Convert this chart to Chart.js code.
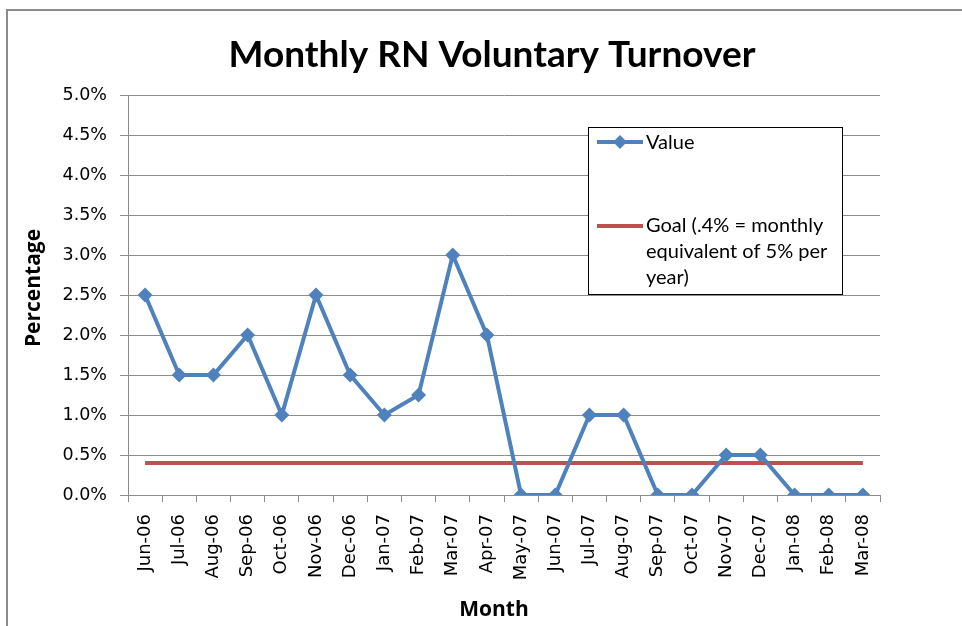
<!DOCTYPE html>
<html>
<head>
<meta charset="utf-8">
<script src="https://cdn.jsdelivr.net/npm/chart.js@4/dist/chart.umd.min.js"></script>
<style>
  html, body { margin: 0; padding: 0; background: #fff; }
  #wrap { width: 962px; height: 626px; }
</style>
</head>
<body>
<div id="wrap"><canvas id="turnoverChart" width="962" height="626"></canvas></div>
<script>
var months = ["Jun-06", "Jul-06", "Aug-06", "Sep-06", "Oct-06", "Nov-06", "Dec-06", "Jan-07", "Feb-07", "Mar-07", "Apr-07",
              "May-07", "Jun-07", "Jul-07", "Aug-07", "Sep-07", "Oct-07", "Nov-07", "Dec-07", "Jan-08", "Feb-08", "Mar-08"];
var valuePct = [2.5, 1.5, 1.5, 2.0, 1.0, 2.5, 1.5, 1.0, 1.25, 3.0, 2.0,
                0, 0, 1.0, 1.0, 0, 0, 0.5, 0.5, 0, 0, 0];
var goalPct = [0.4, 0.4, 0.4, 0.4, 0.4, 0.4, 0.4, 0.4, 0.4, 0.4, 0.4,
               0.4, 0.4, 0.4, 0.4, 0.4, 0.4, 0.4, 0.4, 0.4, 0.4, 0.4];
var yTicks = [0, 0.5, 1.0, 1.5, 2.0, 2.5, 3.0, 3.5, 4.0, 4.5, 5.0];

var textFont = "Lato, 'Open Sans', sans-serif";
var tickFont = "'DejaVu Sans', sans-serif";
var axisFont = "'Open Sans', sans-serif";
var blue = '#4F81BD';
var red = '#C0504D';

// outer frame, titles and the boxed legend sitting inside the plot
var decorations = {
    id: 'decorations',
    beforeDraw: function(chart) {
        var c = chart.ctx;
        c.save();
        c.fillStyle = '#fff';
        c.fillRect(0, 0, chart.width, chart.height);
        c.strokeStyle = '#8c8c8c';
        c.lineWidth = 2;
        c.strokeRect(7, 10, chart.width + 20, chart.height + 20);
        c.restore();
    },
    afterDraw: function(chart) {
        var c = chart.ctx;
        c.save();
        c.fillStyle = '#000';
        c.textAlign = 'center';
        c.textBaseline = 'middle';
        c.font = 'bold 37px ' + textFont;
        c.fillText('Monthly RN Voluntary Turnover', 492, 55);

        c.font = 'bold 21px ' + axisFont;
        c.fillText('Month', 494, 610);
        c.translate(34, 288);
        c.rotate(-Math.PI / 2);
        c.fillText('Percentage', 0, 0);
        c.setTransform(1, 0, 0, 1, 0, 0);

        // legend box
        var bx = 588, by = 127, bw = 254, bh = 167;
        c.fillStyle = '#fff';
        c.fillRect(bx, by, bw, bh);
        c.strokeStyle = '#000';
        c.lineWidth = 1;
        c.strokeRect(bx + 0.5, by + 0.5, bw, bh);

        c.lineWidth = 4;
        c.strokeStyle = blue;
        c.beginPath(); c.moveTo(597, 142); c.lineTo(643, 142); c.stroke();
        c.fillStyle = blue;
        c.beginPath();
        c.moveTo(620, 135); c.lineTo(627, 142); c.lineTo(620, 149); c.lineTo(613, 142);
        c.closePath(); c.fill();

        c.strokeStyle = red;
        c.beginPath(); c.moveTo(597, 226); c.lineTo(643, 226); c.stroke();

        c.fillStyle = '#000';
        c.textAlign = 'left';
        c.font = '20px ' + textFont;
        c.fillText('Value', 646, 143);
        c.fillText('Goal (.4% = monthly', 646, 226);
        c.fillText('equivalent of 5% per', 646, 252);
        c.fillText('year)', 646, 278);
        c.restore();
    }
};

var chartConfig = {
    type: 'line',
    data: {
        labels: months,
        datasets: [{
            label: 'Value',
            data: valuePct,
            borderColor: blue,
            backgroundColor: blue,
            borderWidth: 4,
            pointStyle: 'rectRot',
            pointRadius: 7.5,
            pointBorderWidth: 0,
            tension: 0,
            order: 1
        }, {
            label: 'Goal (.4% = monthly equivalent of 5% per year)',
            data: goalPct,
            borderColor: red,
            backgroundColor: red,
            borderWidth: 4,
            pointRadius: 0,
            tension: 0,
            order: 2
        }]
    },
    plugins: [decorations],
    options: {
        responsive: false,
        animation: false,
        layout: {
            padding: { top: 95, right: 82, bottom: 0, left: 0 }
        },
        plugins: {
            legend: { display: false },
            title: { display: false },
            tooltip: { enabled: false }
        },
        scales: {
            x: {
                offset: true,
                grid: {
                    offset: true,
                    drawOnChartArea: false,
                    drawTicks: true,
                    tickLength: 7,
                    color: '#8c8c8c'
                },
                border: { color: '#8c8c8c', width: 1 },
                ticks: {
                    color: '#000',
                    font: { family: tickFont, size: 18 },
                    minRotation: 90,
                    maxRotation: 90,
                    autoSkip: false,
                    padding: 12
                },
                afterFit: function(scale) { scale.height = 131; }
            },
            y: {
                min: 0,
                max: 5,
                afterBuildTicks: function(scale) {
                    scale.ticks = yTicks.map(function(v) { return { value: v }; });
                },
                grid: {
                    color: '#8c8c8c',
                    tickLength: 8
                },
                border: { color: '#8c8c8c', width: 1 },
                ticks: {
                    color: '#000',
                    font: { family: tickFont, size: 17.5 },
                    padding: 13,
                    callback: function(v) { return v.toFixed(1) + '%'; }
                },
                afterFit: function(scale) { scale.width = 128; }
            }
        }
    }
};

var chartObject = new Chart(document.getElementById('turnoverChart').getContext('2d'), chartConfig);
</script>
</body>
</html>
